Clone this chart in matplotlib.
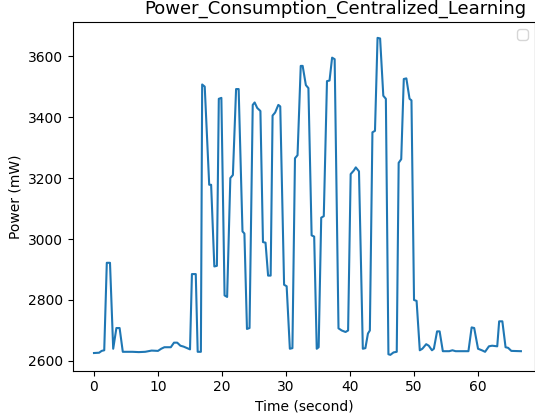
import matplotlib
matplotlib.use("Agg")
import matplotlib.pyplot as plt

# readings of the power trace (time in s, power in mW)
time_s = [
    0.0, 0.8, 1.2, 1.6, 2.0, 2.5, 3.0, 3.5, 4.0, 4.5, 5.0, 6.0, 7.0, 8.0,
    9.0, 10.0, 10.5, 11.0, 12.0, 12.5, 13.0, 13.5, 14.0, 15.0, 15.3, 15.9,
    16.2, 16.7, 16.9, 17.3, 18.0, 18.3, 18.8, 19.2, 19.5, 19.9, 20.4, 20.8,
    21.3, 21.7, 22.2, 22.6, 23.2, 23.5, 23.9, 24.3, 24.8, 25.1, 25.5, 26.0,
    26.4, 26.8, 27.2, 27.6, 27.9, 28.3, 28.8, 29.1, 29.7, 30.1, 30.6, 31.0,
    31.4, 31.8, 32.3, 32.6, 33.1, 33.5, 34.0, 34.4, 34.8, 35.1, 35.5, 35.9,
    36.4, 36.8, 37.2, 37.6, 38.2, 38.7, 39.3, 39.7, 40.1, 40.6, 40.9, 41.4,
    42.0, 42.4, 42.8, 43.1, 43.5, 43.9, 44.3, 44.7, 45.2, 45.6, 46.0, 46.3,
    46.8, 47.3, 47.6, 48.0, 48.4, 48.8, 49.3, 49.6, 50.0, 50.4, 50.9, 51.3,
    51.9, 52.3, 52.8, 53.1, 53.6, 54.0, 54.5, 55.5, 56.0, 56.5, 57.5, 58.5,
    59.0, 59.4, 60.0, 60.6, 61.1, 61.7, 62.2, 63.0, 63.3, 63.8, 64.3, 64.7,
    65.2, 66.7,
]
power_mw = [
    2626, 2627, 2633, 2635, 2922, 2922, 2640, 2708, 2708, 2630, 2630, 2630,
    2629, 2630, 2634, 2633, 2640, 2645, 2645, 2660, 2660, 2650, 2647, 2638,
    2885, 2885, 2630, 2630, 3507, 3500, 3178, 3178, 2910, 2912, 3460, 3463,
    2815, 2810, 3200, 3210, 3492, 3492, 3025, 3018, 2705, 2708, 3440, 3448,
    3430, 3420, 2990, 2988, 2880, 2880, 3405, 3415, 3440, 3435, 2850, 2845,
    2640, 2642, 3265, 3275, 3568, 3568, 3505, 3495, 3012, 3008, 2640, 2645,
    3070, 3075, 3518, 3520, 3595, 3590, 2707, 2700, 2695, 2700, 3213, 3225,
    3235, 3222, 2640, 2642, 2690, 2700, 3350, 3355, 3660, 3658, 3470, 3460,
    2622, 2620, 2628, 2630, 3250, 3262, 3525, 3527, 3460, 3455, 2800, 2797,
    2635, 2640, 2655, 2650, 2635, 2640, 2697, 2697, 2632, 2632, 2635, 2632,
    2632, 2632, 2710, 2708, 2640, 2635, 2630, 2648, 2650, 2648, 2730, 2730,
    2645, 2643, 2633, 2632,
]

fig = plt.figure(figsize=(5.35, 4.17), dpi=100)
ax = fig.add_axes([73 / 535, 1 - 370.7 / 417, 462 / 535, 348.7 / 417])
ax.plot(time_s, power_mw)
ax.set_xlim(-3.28, 68.9)
# title in the source sits right of the axes centre and a bit larger
ax.set_title("Power_Consumption_Centralized_Learning", fontsize=13, x=0.567)
ax.set_xlabel("Time (second)")
ax.set_ylabel("Power (mW)")
ax.legend()

fig.savefig("out.png", dpi=100)
plt.close(fig)
